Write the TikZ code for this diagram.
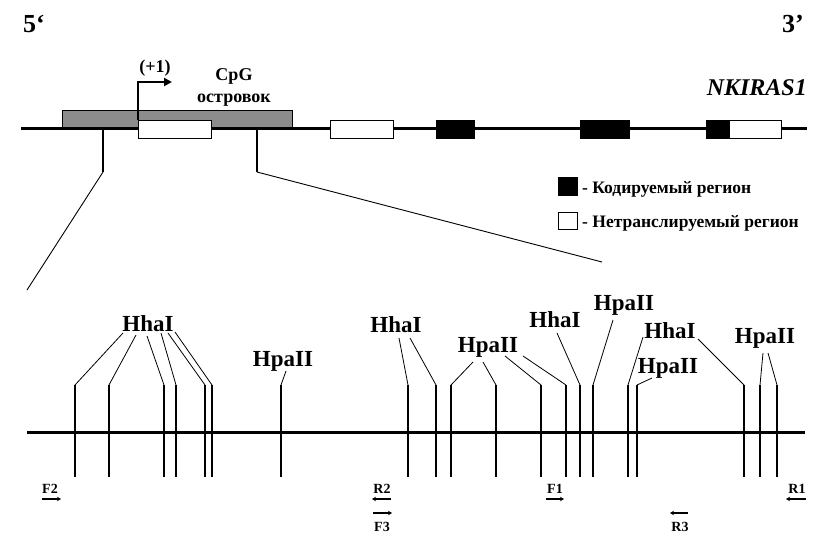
\documentclass[tikz,border=0pt]{standalone}
\usepackage{fontspec}
\setmainfont{Liberation Serif}
\usetikzlibrary{arrows.meta}
\newcommand\pxsize[1]{\fontsize{#1}{#1}\selectfont}
\definecolor{cpggray}{RGB}{140,140,140}
\begin{document}
\begin{tikzpicture}[x=1pt,y=-1pt,
  dna/.style={line width=3pt},
  exonw/.style={draw=black, fill=white, line width=0.8pt, inner sep=0, anchor=north west},
  exonb/.style={draw=black, fill=black, inner sep=0, anchor=north west},
  cpgbox/.style={draw=black, fill=cpggray, line width=0.8pt, inner sep=0, anchor=north west},
  tick/.style={line width=2pt},
  stem/.style={line width=2pt},
  zoomline/.style={line width=0.9pt},
  leader/.style={line width=0.8pt},
  enz/.style={font=\bfseries\pxsize{23}, inner sep=0, anchor=base},
  primer/.style={font=\bfseries\pxsize{14}, inner sep=0, anchor=base},
  parrow/.style={line width=1.3pt, -{Stealth[length=4pt,width=4.5pt]}},
  toplabel/.style={font=\bfseries\pxsize{18}, inner sep=0, anchor=base},
  legtext/.style={font=\bfseries\pxsize{17.5}, inner sep=0, anchor=base west}
]
\useasboundingbox[fill=white] (0,0) rectangle (829,547);

% ---------- top: gene ----------
\node[font=\bfseries\pxsize{26}, inner sep=0, anchor=base] (five) at (34,32) {5‘};
\node[font=\bfseries\pxsize{26}, inner sep=0, anchor=base] (three) at (793,32) {3’};
\node[font=\bfseries\itshape\pxsize{24}, inner sep=0, anchor=base east] (gene) at (807,95) {NKIRAS1};

\coordinate (gL) at (21,128);
\coordinate (gR) at (807,128);
\node[cpgbox, minimum width=230, minimum height=18] (cpg) at (62,110) {};
\draw[dna] (gL) -- (gR);
\node[exonw, minimum width=73, minimum height=18] (u1) at (138,120) {};
\node[exonw, minimum width=63, minimum height=18] (u2) at (330,120) {};
\node[exonb, minimum width=38, minimum height=18] (c1) at (436,120) {};
\node[exonb, minimum width=49, minimum height=18] (c2) at (580,120) {};
\node[exonb, minimum width=23, minimum height=18] (c3) at (706,120) {};
\node[exonw, minimum width=52, minimum height=18] (u3) at (729,120) {};

\coordinate (tss) at (138,82);
\coordinate (tssend) at (172,82);
\draw[line width=2pt, -{Triangle[length=8pt,width=8pt]}] (u1.north west) -- (tss) -- (tssend);
\node[toplabel] (plus1) at (155,72) {(+1)};
\node[toplabel] (cpg1) at (234,80) {CpG};
\node[toplabel] (cpg2) at (234,102) {островок};

% zoom connectors
\coordinate (zl1) at (103,128);
\coordinate (zl2) at (103,172);
\coordinate (zl3) at (27,290);
\coordinate (zr1) at (257,128);
\coordinate (zr2) at (257,172);
\coordinate (zr3) at (602,262);
\draw[stem] (zl1) -- (zl2);
\draw[zoomline] (zl2) -- (zl3);
\draw[stem] (zr1) -- (zr2);
\draw[zoomline] (zr2) -- (zr3);

% legend
\node[exonb, minimum width=19, minimum height=18] (legc) at (558,177) {};
\node[exonw, minimum width=19, minimum height=17] (legu) at (558,212) {};
\node[legtext] (legct) at (582,193) {- Кодируемый регион};
\node[legtext] (legut) at (582,227) {- Нетранслируемый регион};

% ---------- bottom: CpG island detail ----------
\coordinate (bL) at (27,432);
\coordinate (bR) at (805,432);
\draw[dna] (bL) -- (bR);

\foreach \i/\x in {1/75,2/109,3/164,4/176,5/205,6/212,7/281,8/408,9/436,10/451,
                   11/496,12/541,13/566,14/580,15/593,16/628,17/637,18/744,19/760,20/777}{
  \coordinate (t\i) at (\x,385);
  \coordinate (b\i) at (\x,477);
  \draw[tick] (t\i) -- (b\i);
}

\node[enz] (eA) at (148,331) {HhaI};
\node[enz] (eB) at (283,366) {HpaII};
\node[enz] (eC) at (396,332) {HhaI};
\node[enz] (eD) at (488,352) {HpaII};
\node[enz] (eE) at (555,327) {HhaI};
\node[enz] (eF) at (624,310) {HpaII};
\node[enz] (eG) at (670,338) {HhaI};
\node[enz] (eH) at (668,373) {HpaII};
\node[enz] (eI) at (765,343) {HpaII};

\foreach \n/\x/\y/\t in {a1/123/333/1, a2/136/335/2, a3/147/336/3, a4/161/333/4, a5/168/333/5, a6/175/332/6,
                         b1/286/371/7,
                         c1/399/338/8, c2/410/338/9,
                         d1/473/362/10, d2/483/362/11, d3/505/356/12, d4/523/356/13,
                         e1/557/333/14,
                         f1/613/320/15,
                         g1/643/337/16, g2/698/339/18,
                         h1/652/378/17,
                         i1/763/353/19, i2/768/353/20}{
  \coordinate (l\n) at (\x,\y);
  \draw[leader] (l\n) -- (t\t);
}

% primers
\node[primer] (pF2) at (50,493) {F2};
\node[primer] (pR2) at (382,493) {R2};
\node[primer] (pF3) at (382,531) {F3};
\node[primer] (pF1) at (555,493) {F1};
\node[primer] (pR3) at (680,531) {R3};
\node[primer] (pR1) at (797,493) {R1};
\coordinate (aF2s) at (42,499);  \coordinate (aF2e) at (61,499);
\coordinate (aR2s) at (391,499); \coordinate (aR2e) at (372,499);
\coordinate (aF3s) at (373,513); \coordinate (aF3e) at (392,513);
\coordinate (aF1s) at (546,499); \coordinate (aF1e) at (564,499);
\coordinate (aR3s) at (688,513); \coordinate (aR3e) at (670,513);
\coordinate (aR1s) at (806,499); \coordinate (aR1e) at (786,499);
\draw[parrow] (aF2s) -- (aF2e);
\draw[parrow] (aR2s) -- (aR2e);
\draw[parrow] (aF3s) -- (aF3e);
\draw[parrow] (aF1s) -- (aF1e);
\draw[parrow] (aR3s) -- (aR3e);
\draw[parrow] (aR1s) -- (aR1e);
\end{tikzpicture}
\end{document}
